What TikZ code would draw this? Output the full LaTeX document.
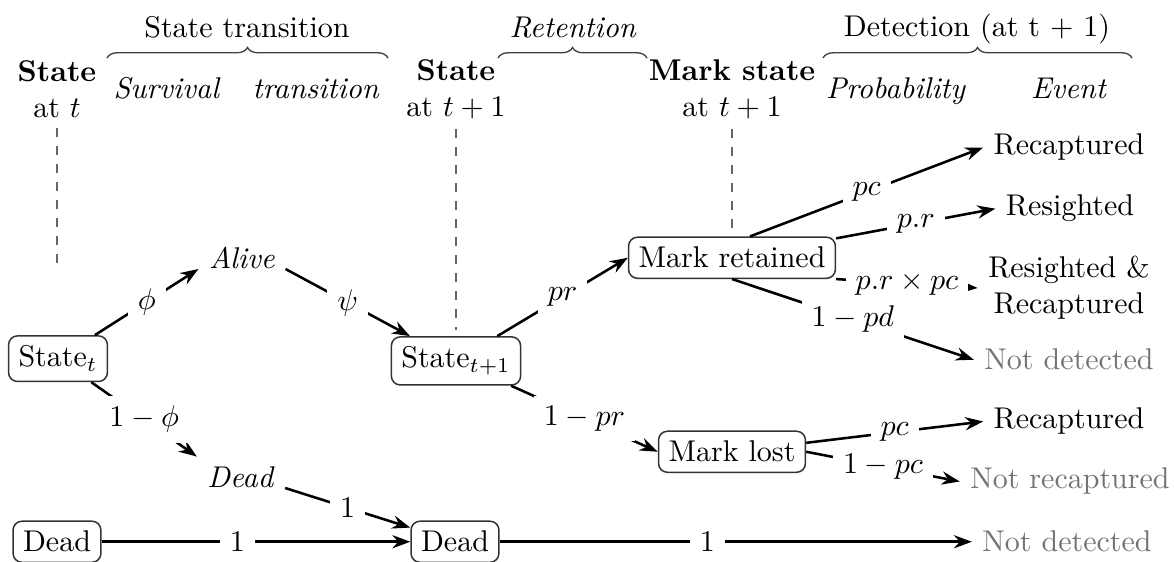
\documentclass[tikz,border=0pt]{standalone}
\usetikzlibrary{arrows.meta,decorations.pathreplacing}
\begin{document}
\begin{tikzpicture}[x=0.33333pt,y=-0.33333pt,
  box/.style={draw=black!80,rounded corners=3pt,line width=0.5pt,inner sep=3.33pt},
  plain/.style={inner sep=3.33pt},
  lab/.style={fill=white,inner sep=3.33pt},
  arr/.style={line width=0.85pt,-{Stealth[length=6pt,width=4.4pt,inset=2pt]}},
  dim/.style={text=black!55},
  guide/.style={draw=black!60,dashed,line width=0.4pt},
  brc/.style={decorate,decoration={brace,amplitude=3.5pt},draw=black!75,line width=0.45pt}]
\useasboundingbox (0,0) rectangle (1174,562);

% headers
\node[plain,align=center] (h0) at (57,89) {\textbf{State}\\at $t$};
\node[plain,align=center] (h1) at (456,89) {\textbf{State}\\at $t+1$};
\node[plain,align=center] (h2) at (732,89) {\textbf{Mark state}\\at $t+1$};
\node[plain,anchor=base] (t1) at (247,38) {State transition};
\node[plain,anchor=base] (t2) at (573,38) {\textit{Retention}};
\node[plain,anchor=base] (t3) at (977,37) {Detection (at t + 1)};
\node[plain,anchor=base] (s1) at (167,99) {\textit{Survival}};
\node[plain,anchor=base] (s2) at (316,99) {\textit{transition}};
\node[plain,anchor=base] (s3) at (896,99) {\textit{Probability}};
\node[plain,anchor=base] (s4) at (1069,99) {\textit{Event}};

\coordinate (b1l) at (107,58); \coordinate (b1r) at (388,58);
\coordinate (b2l) at (498,58); \coordinate (b2r) at (647,58);
\coordinate (b3l) at (823,58); \coordinate (b3r) at (1132,58);
\draw[brc] (b1l) -- (b1r);
\draw[brc] (b2l) -- (b2r);
\draw[brc] (b3l) -- (b3r);

\coordinate (g0) at (57,270);
\coordinate (g1) at (456,330);
\coordinate (g2) at (732,232);
\draw[guide] (h0.south) -- (g0);
\draw[guide] (h1.south) -- (g1);
\draw[guide] (h2.south) -- (g2);

% tree nodes
\node[box,anchor=base] (stt) at (58,367) {State$_t$};
\node[plain,anchor=base] (alive) at (242,269) {\textit{Alive}};
\node[plain,anchor=base] (deadi) at (241,488) {\textit{Dead}};
\node[box,anchor=base] (st1) at (456,368) {State$_{t+1}$};
\node[box,anchor=base] (mr) at (732,268) {Mark retained};
\node[box,anchor=base] (ml) at (732,462) {Mark lost};
\node[box,anchor=base] (d0) at (57,552) {Dead};
\node[box,anchor=base] (d1) at (455,552) {Dead};

% events
\node[plain,anchor=base] (rec1) at (1069,155) {Recaptured};
\node[plain,anchor=base] (res) at (1070,216) {Resighted};
\node[plain,align=center] (rsr) at (1069,288) {Resighted \&\\Recaptured};
\node[plain,anchor=base,dim] (nd1) at (1069,370) {Not detected};
\node[plain,anchor=base] (rec2) at (1069,429) {Recaptured};
\node[plain,anchor=base,dim] (nr) at (1070,489) {Not recaptured};
\node[plain,anchor=base,dim] (nd2) at (1067,552) {Not detected};

% edges
\draw[arr] (stt) -- node[lab]{$\phi$} (alive.base west);
\draw[arr] (alive.base east) -- node[lab]{$\psi$} (st1);
\draw[arr] (stt) -- node[lab]{$1-\phi$} (deadi.north west);
\draw[arr] (deadi.base east) -- node[lab]{$1$} (d1);
\draw[arr] (d0) -- node[lab,pos=0.44]{$1$} (d1);
\draw[arr] (st1) -- node[lab]{$pr$} (mr.west);
\draw[arr] (st1) -- node[lab]{$1-pr$} (ml.west);
\draw[arr] (d1) -- node[lab,pos=0.44]{$1$} (nd2);
\draw[arr] ([xshift=6pt]mr.north) -- node[lab]{$pc$} (rec1.west);
\draw[arr] (mr) -- node[lab]{$p.r$} (res.west);
\draw[arr] (mr.south east) -- node[lab]{$p.r\times pc$} (rsr.west);
\draw[arr] (mr.south) -- node[lab]{$1-pd$} (nd1.west);
\draw[arr] (ml) -- node[lab]{$pc$} (rec2.west);
\draw[arr] (ml.east) -- node[lab]{$1-pc$} (nr.west);
\end{tikzpicture}
\end{document}
